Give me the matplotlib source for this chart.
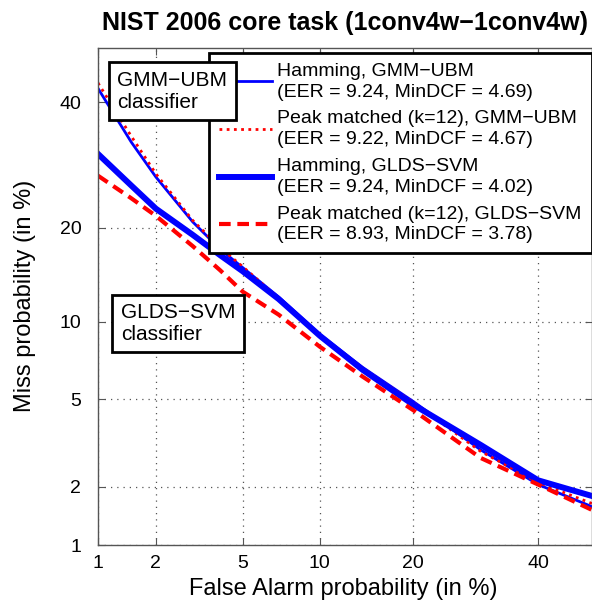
import math
import numpy as np
import matplotlib
matplotlib.use('Agg')
import matplotlib.pyplot as plt

plt.rcParams['font.family'] = ['Liberation Sans', 'DejaVu Sans']

# False alarm rates (%) where the curves were read
fa = [1, 1.5, 2, 3, 4, 5, 7, 10, 14, 20, 30, 40, 50]

# Miss rates (%) for each system
miss_ham_gmm = [42.5, 33.0, 27.3, 20.8, 17.3, 15.2, 12.2, 9.0, 6.75, 4.9, 3.0, 2.05, 1.59]
miss_peak_gmm = [43.5, 34.0, 27.8, 21.0, 17.5, 15.3, 12.1, 8.95, 6.7, 4.85, 2.95, 2.1, 1.65]
miss_ham_glds = [31.0, 26.0, 22.6, 19.1, 16.6, 14.8, 12.0, 8.9, 6.6, 4.75, 3.16, 2.15, 1.80]
miss_peak_glds = [27.5, 24.1, 21.6, 17.7, 14.9, 12.7, 10.6, 8.1, 6.2, 4.5, 2.75, 2.05, 1.53]

labels = [
    'Hamming, GMM\u2212UBM\n(EER = 9.24, MinDCF = 4.69)',
    'Peak matched (k=12), GMM\u2212UBM\n(EER = 9.22, MinDCF = 4.67)',
    'Hamming, GLDS\u2212SVM\n(EER = 9.24, MinDCF = 4.02)',
    'Peak matched (k=12), GLDS\u2212SVM\n(EER = 8.93, MinDCF = 3.78)',
]

ticks = [1, 2, 5, 10, 20, 40]


# normal deviate (probit) scale, Acklam's approximation for the inverse
def ppf(p):
    a = [-3.969683028665376e+01, 2.209460984245205e+02, -2.759285104469687e+02,
         1.383577518672690e+02, -3.066479806614716e+01, 2.506628277459239e+00]
    b = [-5.447609879822406e+01, 1.615858368580409e+02, -1.556989798598866e+02,
         6.680131188771972e+01, -1.328068155288572e+01]
    c = [-7.784894002430293e-03, -3.223964580411365e-01, -2.400758277161838e+00,
         -2.549671010229528e+00, 4.374664141464968e+00, 2.938163982698783e+00]
    d = [7.784695709041462e-03, 3.224671290700398e-01, 2.445134137142996e+00,
         3.754408661907416e+00]
    plow = 0.02425
    q_lo = np.sqrt(-2 * np.log(p))
    lo = (((((c[0]*q_lo + c[1])*q_lo + c[2])*q_lo + c[3])*q_lo + c[4])*q_lo + c[5]) / \
         ((((d[0]*q_lo + d[1])*q_lo + d[2])*q_lo + d[3])*q_lo + 1)
    q_hi = np.sqrt(-2 * np.log(1 - p))
    hi = -(((((c[0]*q_hi + c[1])*q_hi + c[2])*q_hi + c[3])*q_hi + c[4])*q_hi + c[5]) / \
         ((((d[0]*q_hi + d[1])*q_hi + d[2])*q_hi + d[3])*q_hi + 1)
    q = p - 0.5
    r = q * q
    mid = (((((a[0]*r + a[1])*r + a[2])*r + a[3])*r + a[4])*r + a[5]) * q / \
          (((((b[0]*r + b[1])*r + b[2])*r + b[3])*r + b[4])*r + 1)
    return np.where(p < plow, lo, np.where(p > 1 - plow, hi, mid))


_erf = np.vectorize(math.erf, otypes=[float])


def forward(v):
    p = np.clip(np.asarray(v, dtype=float) / 100.0, 1e-9, 1 - 1e-9)
    return ppf(p)


def inverse(z):
    z = np.asarray(z, dtype=float)
    return 100.0 * 0.5 * (1 + _erf(z / math.sqrt(2)))


fig = plt.figure(figsize=(5.92, 6.02), dpi=100)
ax = fig.add_axes([98 / 592, 57 / 602, 494 / 592, 497 / 602])
ax.set_xscale('function', functions=(forward, inverse))
ax.set_yscale('function', functions=(forward, inverse))

ax.plot(fa, miss_ham_gmm, color='#0000ff', lw=2, label=labels[0])
ax.plot(fa, miss_peak_gmm, color='#ff0000', lw=2, ls=(0, (1, 1.6)), label=labels[1])
ax.plot(fa, miss_ham_glds, color='#0000ff', lw=4.3, label=labels[2])
ax.plot(fa, miss_peak_glds, color='#ff0000', lw=3, ls=(0, (2.8, 1.6)), label=labels[3])

ax.set_xlim(1, 50)
ax.set_ylim(1, 50)
ax.set_xticks(ticks)
ax.set_yticks(ticks)
ax.set_xticklabels([str(t) for t in ticks])
ax.set_yticklabels([str(t) for t in ticks])
ax.minorticks_off()
ax.tick_params(direction='in', length=5, width=0.8, colors='#555555',
               labelcolor='black', labelsize=14, top=True, right=True)
ax.tick_params(axis='y', pad=12)
ax.tick_params(axis='x', pad=7)
ax.grid(True, ls=(0, (1, 4)), color='#555555', lw=0.9)
for s in ax.spines.values():
    s.set_color('#555555')
    s.set_linewidth(1.0)

ax.set_xlabel('False Alarm probability (in %)', fontsize=17)
ax.set_ylabel('Miss probability (in %)', fontsize=17)
ax.xaxis.set_label_coords(0.497, -0.066)
ax.yaxis.set_label_coords(-0.126, 0.502)
ax.set_title('NIST 2006 core task (1conv4w\u22121conv4w)', fontsize=18,
             fontweight='bold', pad=13)

leg = ax.legend(loc='upper right', bbox_to_anchor=(0.999, 0.99), borderaxespad=0,
                fontsize=14, handlelength=2.7, handletextpad=0.3, labelspacing=0.5,
                borderpad=0.5, fancybox=False, framealpha=1, edgecolor='black')
leg.get_frame().set_linewidth(2)
leg.set_zorder(4)
for t in leg.get_texts():
    t.set_linespacing(1.3)

box = dict(boxstyle='square,pad=0.4', fc='white', ec='black', lw=2)
ax.text(0.039, 0.913, 'GMM\u2212UBM\nclassifier', transform=ax.transAxes,
        fontsize=15, ha='left', va='center', bbox=box, linespacing=1.2, zorder=6)
ax.text(0.046, 0.446, 'GLDS\u2212SVM\nclassifier', transform=ax.transAxes,
        fontsize=15, ha='left', va='center', bbox=box, linespacing=1.2, zorder=6)

fig.savefig('out.png', dpi=100)
